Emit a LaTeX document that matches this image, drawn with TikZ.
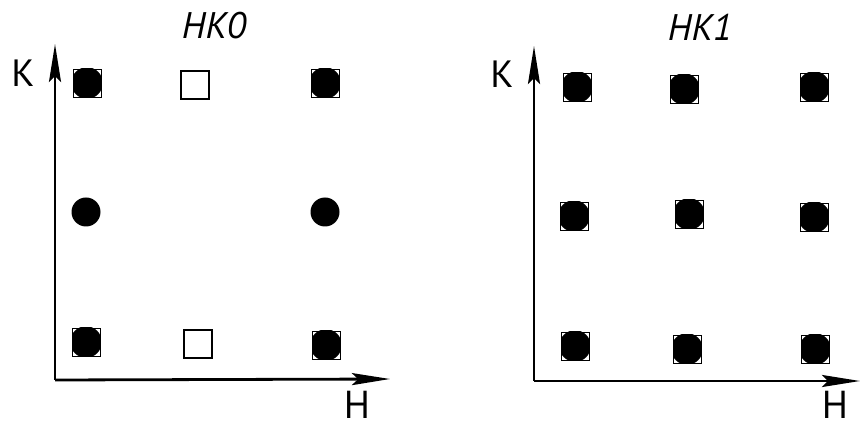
\documentclass[tikz,border=0pt]{standalone}
\usepackage{fontspec}
\setmainfont{PT Sans}
\usetikzlibrary{arrows.meta}
\tikzset{
  axis/.style={line width=2.8pt, -{Stealth[length=38pt,width=12pt,inset=6pt]}},
  fullspot/.style={rectangle, draw, line width=0.9pt, minimum size=28pt, inner sep=0pt,
    path picture={\fill (path picture bounding box.center) circle (15.8pt);}},
  openspot/.style={rectangle, draw, line width=1.2pt, minimum size=28pt, inner sep=0pt, fill=white},
  dotspot/.style={circle, fill, minimum size=29pt, inner sep=0pt},
  axlabel/.style={font=\fontsize{38}{38}\selectfont, inner sep=0pt},
  hlabel/.style={font=\fontsize{39}{39}\selectfont, inner sep=0pt},
  ttl/.style={font=\itshape\fontsize{37}{37}\selectfont, inner sep=0pt}
}
\begin{document}
\begin{tikzpicture}[x=1pt,y=-1pt]
\useasboundingbox (0,0) rectangle (860,430);
% left panel
\node[ttl] (t0) at (214,26) {HK0};
\coordinate (o0) at (55,380);
\coordinate (k0) at (55,44);
\coordinate (h0) at (390,379);
\draw[axis] (o0) -- (k0);
\draw[axis] (o0) -- (h0);
\node[axlabel] (K0) at (23,73) {K};
\node[hlabel] (H0) at (357,405) {H};
\node[fullspot] (a1) at (87,83) {};
\node[openspot] (a2) at (195,85) {};
\node[fullspot] (a3) at (325,83) {};
\node[dotspot] (a4) at (86,212) {};
\node[dotspot] (a5) at (325,212) {};
\node[fullspot] (a6) at (86,342) {};
\node[openspot] (a7) at (198,344) {};
\node[fullspot] (a8) at (326,345) {};
% right panel
\node[ttl] (t1) at (700,27) {HK1};
\coordinate (o1) at (534,381);
\coordinate (k1) at (534,46);
\coordinate (h1) at (860,381);
\draw[axis] (o1) -- (k1);
\draw[axis] (o1) -- (h1);
\node[axlabel] (K1) at (502,74) {K};
\node[hlabel] (H1) at (835,405) {H};
\node[fullspot] (b1) at (577,87) {};
\node[fullspot] (b2) at (684,89) {};
\node[fullspot] (b3) at (814,87) {};
\node[fullspot] (b4) at (574,216) {};
\node[fullspot] (b5) at (689,214) {};
\node[fullspot] (b6) at (814,217) {};
\node[fullspot] (b7) at (575,346) {};
\node[fullspot] (b8) at (687,349) {};
\node[fullspot] (b9) at (815,349) {};
\end{tikzpicture}
\end{document}
